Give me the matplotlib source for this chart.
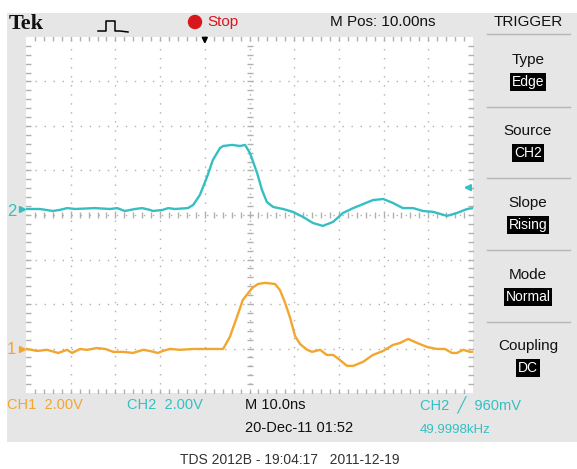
import matplotlib
matplotlib.use("Agg")
import matplotlib.pyplot as plt
from matplotlib.patches import Rectangle, Circle

# ---------------- data ----------------
# CH2 (cyan): time in ns across screen (0..100), volts relative to CH2 ground
ch2_t = [0, 3.1, 6.0, 7.6, 9.2, 11.0, 15.4, 18.8, 20.4, 22.1, 24.4, 26.0, 27.7, 28.4,
         30.6, 31.8, 33.3, 36.2, 37.4, 38.9, 40.5, 41.8, 43.4, 44.1, 46.1, 47.9, 49.0,
         50.1, 51.7, 52.8, 53.9, 55.3, 57.5, 59.7, 62.0, 64.2, 66.4, 68.7, 70.9, 73.2,
         75.4, 77.6, 79.9, 82.1, 84.3, 86.6, 88.8, 91.1, 94.2, 96.4, 98.7, 100]
ch2_v = [0, 0, -0.09, -0.04, 0.04, 0, 0.04, 0, 0.04, -0.09, 0, 0.04, -0.04, -0.09,
         -0.04, 0.04, 0, 0.04, 0.18, 0.63, 1.44, 2.20, 2.74, 2.83, 2.88, 2.83, 2.88,
         2.52, 1.62, 0.85, 0.31, 0.09, 0, -0.13, -0.36, -0.63, -0.76, -0.58, -0.18, 0.04,
         0.22, 0.40, 0.45, 0.27, 0.04, 0.04, -0.09, -0.13, -0.31, -0.18, 0, 0.04]

# CH1 (orange)
ch1_t = [0.2, 2.5, 4.7, 7.2, 9.2, 10.3, 12.1, 13.6, 15.9, 17.7, 19.5, 21.7, 23.9, 26.2,
         27.7, 29.5, 30.6, 32.2, 34.5, 37.4, 40.5, 44.1, 45.6, 47.2, 48.5, 50.6, 51.9,
         53.5, 55.7, 56.8, 57.9, 59.1, 60.2, 61.3, 62.9, 64.0, 65.8, 67.3, 68.7, 70.2,
         71.8, 73.2, 75.4, 77.6, 79.9, 82.1, 83.7, 85.5, 87.5, 89.7, 91.9, 93.7, 95.3,
         96.4, 97.8, 99.3, 100]
ch1_v = [0, -0.09, -0.04, -0.18, -0.04, -0.18, 0, -0.04, 0.04, 0, -0.13, -0.13, -0.18, -0.04,
         -0.09, -0.18, -0.09, 0, -0.04, 0, 0, 0, 0.54, 1.44, 2.20, 2.74, 2.92,
         2.97, 2.92, 2.65, 2.11, 1.39, 0.58, 0.22, -0.04, -0.13, -0.04, -0.27, -0.27, -0.49,
         -0.76, -0.76, -0.58, -0.27, -0.09, 0.18, 0.27, 0.45, 0.27, 0.09, 0, 0, -0.18,
         -0.18, -0.04, -0.13, -0.13]

volts_per_div = 2.0
ch1_pos = -3.01   # divisions
ch2_pos = 0.135
trig_level = 0.96  # V on CH2
trig_time = 40.0   # ns from left edge

top_labels = ["Tek", "Stop", "M Pos: 10.00ns", "TRIGGER"]
menu_titles = ["Type", "Source", "Slope", "Mode", "Coupling"]
menu_values = ["Edge", "CH2", "Rising", "Normal", "DC"]
bottom_row1 = ["CH1  2.00V", "CH2  2.00V", "M 10.0ns", "CH2  \u2571  960mV"]
bottom_row2 = ["20-Dec-11 01:52", "49.9998kHz"]
caption = "TDS 2012B - 19:04:17   2011-12-19"

CYAN = "#35bfc2"
ORANGE = "#f2a630"
GRID = "#b0b0b0"
BG = "#e6e6e6"
NARROW = ["Liberation Sans Narrow", "Liberation Sans", "DejaVu Sans"]

W, H = 577, 469
fig = plt.figure(figsize=(W / 100, H / 100), dpi=100)
fig.patch.set_facecolor("white")

# decoration axes in pixel coordinates
deco = fig.add_axes([0, 0, 1, 1], zorder=0)
deco.set_xlim(0, W)
deco.set_ylim(H, 0)
deco.axis("off")
deco.add_patch(Rectangle((7, 13), W - 7, 429, facecolor=BG, edgecolor="none"))

# screen axes
ax = fig.add_axes([26 / W, 1 - 393 / H, 447 / W, 356 / H], zorder=1)
ax.set_facecolor("white")
ax.set_xlim(0, 100)
ax.set_ylim(-4, 4)
for s in ax.spines.values():
    s.set_visible(False)
ax.set_xticks([])
ax.set_yticks([])

dot = (0, (1, 5.5))
for i in range(1, 10):
    ax.axvline(i * 10, color=GRID, lw=1.0, ls=dot, zorder=1)
for j in range(-3, 4):
    ax.axhline(j, color=GRID, lw=1.0, ls=dot, zorder=1)

# edge and center ticks
xt = [k * 2 for k in range(1, 50)]
yt = [k * 0.2 - 4 for k in range(1, 40)]
ax.plot(xt, [0] * len(xt), ls="none", marker="|", ms=5, color=GRID, mew=1, zorder=1)
ax.plot([50] * len(yt), yt, ls="none", marker="_", ms=5, color=GRID, mew=1, zorder=1)
ax.plot(xt, [3.97] * len(xt), ls="none", marker="|", ms=4, color=GRID, mew=1, zorder=1)
ax.plot(xt, [-3.97] * len(xt), ls="none", marker="|", ms=4, color=GRID, mew=1, zorder=1)
ax.plot([0.4] * len(yt), yt, ls="none", marker="_", ms=4, color=GRID, mew=1, zorder=1)
ax.plot([99.6] * len(yt), yt, ls="none", marker="_", ms=4, color=GRID, mew=1, zorder=1)

# traces
ax.plot(ch2_t, [ch2_pos + v / volts_per_div for v in ch2_v], color=CYAN, lw=1.7, zorder=3)
ax.plot(ch1_t, [ch1_pos + v / volts_per_div for v in ch1_v], color=ORANGE, lw=1.7, zorder=3)

# ground markers
ax.plot([-0.8], [ch2_pos], marker=">", ms=5, color=CYAN, clip_on=False, zorder=4)
ax.plot([-0.8], [ch1_pos], marker=">", ms=5, color=ORANGE, clip_on=False, zorder=4)
deco.text(7, 211, "2", color=CYAN, fontsize=12, va="center", ha="left", family=NARROW)
deco.text(7, 350, "1", color=ORANGE, fontsize=12, va="center", ha="left", family=NARROW)

# trigger level arrow (right)
ty = ch2_pos + trig_level / volts_per_div
ax.annotate("", xy=(97.3, ty), xytext=(100, ty),
            arrowprops=dict(arrowstyle="-|>", color=CYAN, lw=1.5, mutation_scale=9),
            annotation_clip=False, zorder=5)
# trigger position arrow (top)
ax.annotate("", xy=(trig_time, 3.78), xytext=(trig_time, 4.0),
            arrowprops=dict(arrowstyle="-|>", color="black", lw=1.3, mutation_scale=8),
            annotation_clip=False, zorder=5)

# top bar
deco.text(9, 24, top_labels[0], fontsize=16, fontweight="bold",
          family=["Liberation Serif", "DejaVu Serif"], va="center", ha="left", color="#111111")
deco.plot([98, 106, 106, 115, 115, 120, 128], [31, 31, 21, 21, 31, 31, 32], color="black", lw=1.1)
deco.add_patch(Circle((195, 22), 6.5, color="#d8171d"))
deco.text(207, 22, top_labels[1], fontsize=11, color="#d8171d", va="center", ha="left", family=NARROW)
deco.text(383, 22, top_labels[2], fontsize=11, color="#111111", va="center", ha="center", family=NARROW)
deco.text(528, 22, top_labels[3], fontsize=11, color="#111111", va="center", ha="center", family=NARROW)

# right menu
for yline in [34, 107, 178, 250, 322]:
    deco.plot([487, 570], [yline, yline], color="#b5b5b5", lw=1)
ys_title = [60, 131, 203, 275, 346]
for title, val, yy in zip(menu_titles, menu_values, ys_title):
    deco.text(528, yy, title, fontsize=11, color="#111111", va="center", ha="center", family=NARROW)
    deco.text(528, yy + 22, val, fontsize=10, color="white", va="center", ha="center", family=NARROW,
              bbox=dict(boxstyle="square,pad=0.12", facecolor="black", edgecolor="none"))

# bottom bar
deco.text(7, 405, bottom_row1[0], fontsize=10.5, color=ORANGE, va="center", ha="left", family=NARROW)
deco.text(127, 405, bottom_row1[1], fontsize=10.5, color=CYAN, va="center", ha="left", family=NARROW)
deco.text(245, 405, bottom_row1[2], fontsize=10.5, color="#111111", va="center", ha="left", family=NARROW)
deco.text(420, 405, bottom_row1[3], fontsize=10.5, color=CYAN, va="center", ha="left", family=NARROW)
deco.text(245, 428, bottom_row2[0], fontsize=10.5, color="#111111", va="center", ha="left", family=NARROW)
deco.text(420, 430, bottom_row2[1], fontsize=9.5, color=CYAN, va="center", ha="left", family=NARROW)

deco.text(290, 460, caption, fontsize=10, color="#333333", va="center", ha="center",
          family=["Liberation Sans", "DejaVu Sans"])

fig.savefig("out.png", dpi=100, facecolor="white")
